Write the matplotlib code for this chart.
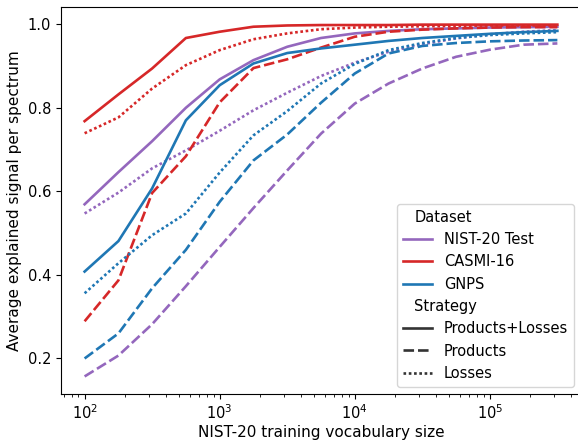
import pandas as pd
import matplotlib
matplotlib.use("Agg")
import matplotlib.pyplot as plt
from matplotlib.offsetbox import VPacker
import seaborn as sns

vocab_sizes = [100, 178, 316, 562, 1000, 1778, 3162, 5623, 10000,
               17783, 31623, 56234, 100000, 177828, 316228]

datasets = ["NIST-20 Test", "CASMI-16", "GNPS"]
strategies = ["Products+Losses", "Products", "Losses"]
colors = {"NIST-20 Test": "#9467bd", "CASMI-16": "#d62728", "GNPS": "#1f77b4"}

nist_both = [0.569, 0.646, 0.720, 0.800, 0.868, 0.914, 0.946, 0.967, 0.978,
             0.984, 0.988, 0.990, 0.992, 0.993, 0.994]
nist_products = [0.157, 0.207, 0.282, 0.373, 0.467, 0.560, 0.650, 0.738, 0.810,
                 0.858, 0.894, 0.922, 0.939, 0.951, 0.954]
nist_losses = [0.547, 0.597, 0.655, 0.698, 0.745, 0.794, 0.836, 0.876, 0.908,
               0.934, 0.952, 0.966, 0.976, 0.982, 0.986]

casmi_both = [0.768, 0.832, 0.894, 0.967, 0.982, 0.994, 0.997, 0.998, 0.998,
              0.998, 0.999, 0.999, 0.999, 0.999, 0.999]
casmi_products = [0.289, 0.387, 0.596, 0.684, 0.813, 0.895, 0.916, 0.944, 0.970,
                  0.982, 0.987, 0.990, 0.992, 0.993, 0.993]
casmi_losses = [0.739, 0.777, 0.846, 0.902, 0.938, 0.964, 0.978, 0.988, 0.992,
                0.994, 0.995, 0.996, 0.997, 0.997, 0.997]

gnps_both = [0.408, 0.481, 0.607, 0.770, 0.854, 0.906, 0.931, 0.942, 0.951,
             0.960, 0.967, 0.972, 0.977, 0.981, 0.984]
gnps_products = [0.200, 0.260, 0.368, 0.460, 0.575, 0.674, 0.736, 0.812, 0.882,
                 0.930, 0.948, 0.955, 0.959, 0.961, 0.962]
gnps_losses = [0.356, 0.428, 0.495, 0.547, 0.645, 0.734, 0.792, 0.858, 0.905,
               0.938, 0.955, 0.967, 0.974, 0.978, 0.981]

series = {
    ("NIST-20 Test", "Products+Losses"): nist_both,
    ("NIST-20 Test", "Products"): nist_products,
    ("NIST-20 Test", "Losses"): nist_losses,
    ("CASMI-16", "Products+Losses"): casmi_both,
    ("CASMI-16", "Products"): casmi_products,
    ("CASMI-16", "Losses"): casmi_losses,
    ("GNPS", "Products+Losses"): gnps_both,
    ("GNPS", "Products"): gnps_products,
    ("GNPS", "Losses"): gnps_losses,
}

rows = []
for (ds, strat), vals in series.items():
    for v, s in zip(vocab_sizes, vals):
        rows.append({"Vocab": v, "Signal": s, "Dataset": ds, "Strategy": strat})
df = pd.DataFrame(rows)

plt.rcParams["legend.loc"] = "lower right"
plt.rcParams["legend.fontsize"] = 10.5
plt.rcParams["xtick.labelsize"] = 10.5
plt.rcParams["ytick.labelsize"] = 10.5
plt.rcParams["axes.labelsize"] = 11

fig = plt.figure(figsize=(5.78, 4.4), dpi=100)
ax = fig.add_axes([0.1055, 0.1045, 0.8997, 0.8795])

sns.lineplot(data=df, x="Vocab", y="Signal", hue="Dataset", style="Strategy",
             hue_order=datasets, style_order=strategies, palette=colors,
             linewidth=1.9, ax=ax)

ax.set_xscale("log")
ax.set_xlabel("NIST-20 training vocabulary size", labelpad=2)
ax.set_ylabel("Average explained signal per spectrum")

# pull the "Dataset" / "Strategy" subtitles left, where the handles sit
subtitles = {"Dataset", "Strategy"}
leg = ax.get_legend()
for hpack in leg.findobj(VPacker)[0].get_children():
    draw_area, text_area = hpack.get_children()
    texts = [t.get_text() for t in text_area.get_children()]
    if any(t in subtitles for t in texts):
        draw_area.set_width(0)
        for h in draw_area.get_children():
            h.set_visible(False)

fig.savefig("out.png", dpi=100)
plt.close(fig)
